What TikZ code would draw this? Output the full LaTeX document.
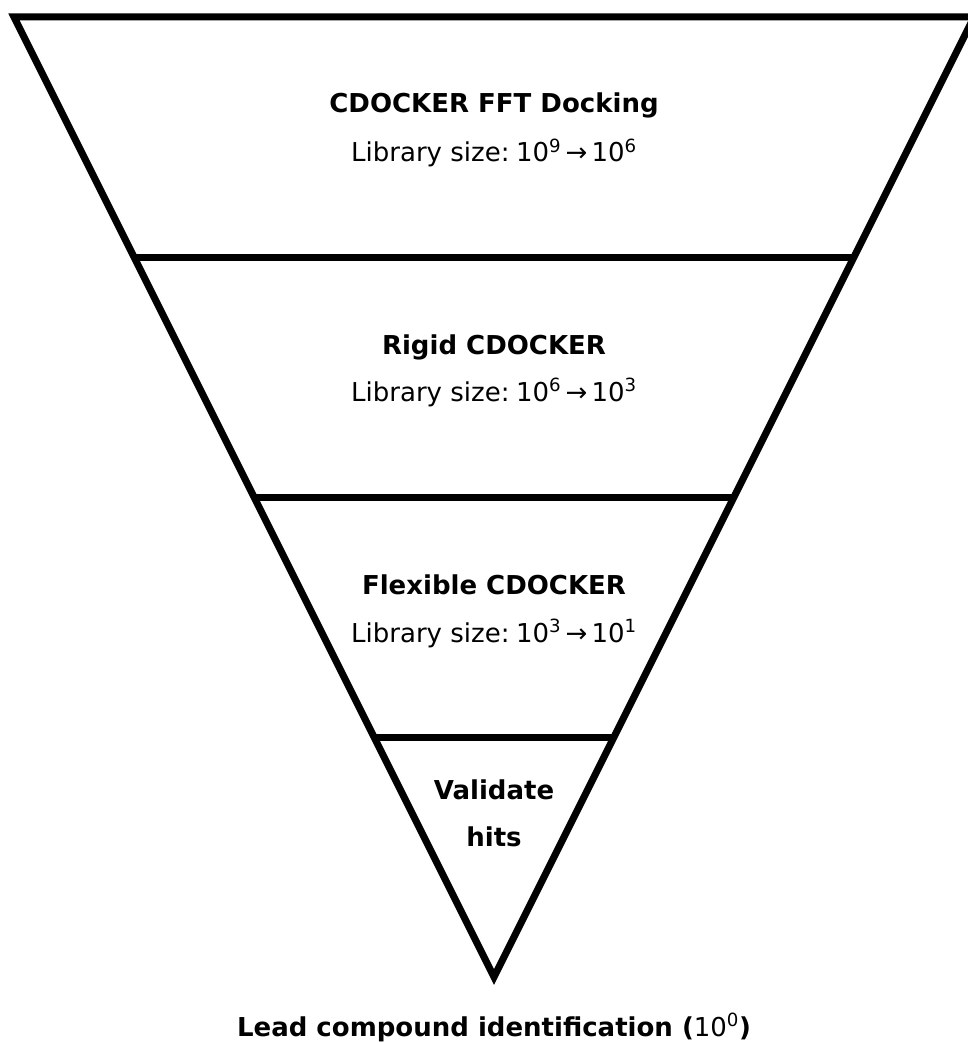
\documentclass[tikz,border=0pt]{standalone}
\usepackage{fontspec}
\setmainfont{DejaVu Sans}
\newcommand{\pw}[1]{\textsuperscript{\normalfont #1}}
\begin{document}
\begin{tikzpicture}[x=1pt,y=-1pt,
  edge/.style={line width=7pt,line join=miter,miter limit=10},
  ttl/.style={anchor=base,font=\fontsize{26}{30}\selectfont\bfseries,inner sep=0pt},
  lib/.style={anchor=base,font=\fontsize{26}{30}\selectfont,inner sep=0pt}]
\useasboundingbox (0,0) rectangle (967,1043);
\coordinate (tl) at (14,17);
\coordinate (tr) at (974,17);
\coordinate (ap) at (494,977);
\coordinate (l1) at (134,257); \coordinate (r1) at (854,257);
\coordinate (l2) at (254,497); \coordinate (r2) at (734,497);
\coordinate (l3) at (374,737); \coordinate (r3) at (614,737);
\draw[edge] (tl) -- (tr) -- (ap) -- cycle;
\draw[edge] (l1) -- (r1);
\draw[edge] (l2) -- (r2);
\draw[edge] (l3) -- (r3);
\node[ttl] (t1) at (494,113) {CDOCKER FFT Docking};
\node[lib] (s1) at (494,162) {Library size:\hspace{0.25em}10\pw{9}\,→\,10\pw{6}};
\node[ttl] (t2) at (494,354) {Rigid CDOCKER};
\node[lib] (s2) at (494,401) {Library size:\hspace{0.25em}10\pw{6}\,→\,10\pw{3}};
\node[ttl] (t3) at (494,594) {Flexible CDOCKER};
\node[lib] (s3) at (494,642) {Library size:\hspace{0.25em}10\pw{3}\,→\,10\pw{1}};
\node[ttl] (t4) at (494,799) {Validate};
\node[ttl] (t5) at (494,846) {hits};
\node[ttl] (lead) at (494,1036) {Lead compound identification ({\normalfont 10\pw{0}})};
\end{tikzpicture}
\end{document}
